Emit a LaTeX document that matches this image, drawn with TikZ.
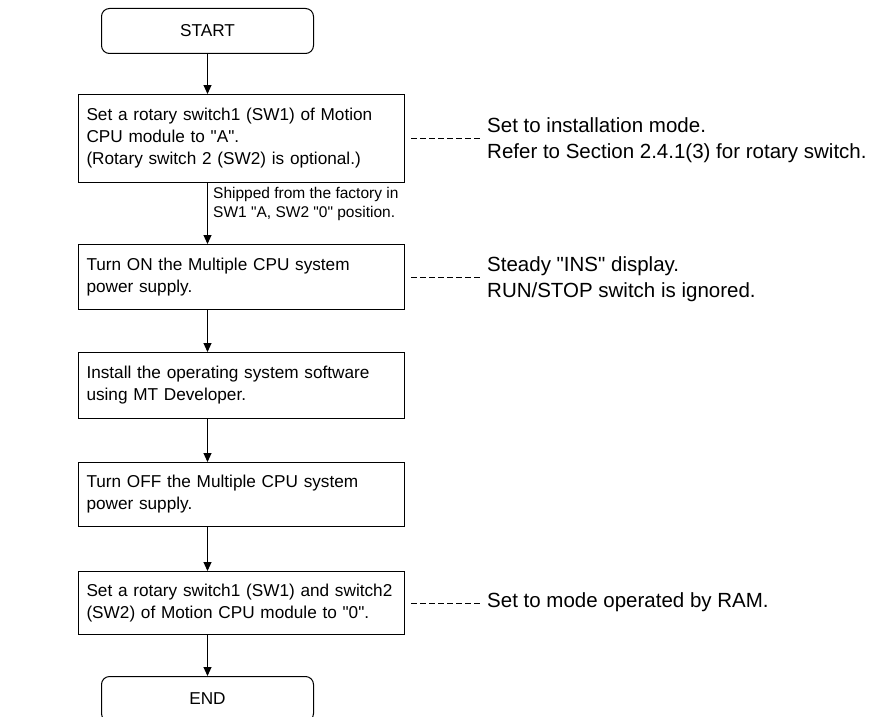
\documentclass[tikz,border=0pt]{standalone}
\usepackage{fontspec}
\setmainfont{Liberation Sans}[Ligatures=TeXOff]
\usetikzlibrary{arrows.meta}
\begin{document}
\begin{tikzpicture}[x=1pt,y=-1pt,
  every node/.style={font=\fontsize{17.2}{22}\selectfont},
  box/.style={draw, line width=1pt, minimum width=326pt, text width=310pt, inner xsep=8pt, inner ysep=0pt, align=left, anchor=north west},
  term/.style={draw, line width=1pt, rounded corners=8pt, minimum width=212pt, minimum height=45pt, anchor=north west},
  flow/.style={line width=1pt, -{Triangle[length=9pt,width=8pt]}},
  link/.style={line width=1pt, dash pattern=on 6pt off 3pt},
  note/.style={anchor=west, align=left, font=\fontsize{20.5}{25.5}\selectfont, inner sep=0pt},
  small/.style={anchor=west, align=left, font=\fontsize{15.5}{19.5}\selectfont, inner sep=0pt}]
\useasboundingbox (0,0) rectangle (894,717);

\node[term] (start) at (101,8) {START};
\node[box, minimum height=88pt] (b1) at (78,94) {Set a rotary switch1 (SW1) of Motion\\CPU module to "A".\\(Rotary switch 2 (SW2) is optional.)};
\node[box, minimum height=65pt] (b2) at (78,244) {Turn ON the Multiple CPU system\\power supply.};
\node[box, minimum height=66pt] (b3) at (78,352) {Install the operating system software\\using MT Developer.};
\node[box, minimum height=64pt] (b4) at (78,462) {Turn OFF the Multiple CPU system\\power supply.};
\node[box, minimum height=63pt] (b5) at (78,571) {Set a rotary switch1 (SW1) and switch2\\(SW2) of Motion CPU module to "0".};
\node[term] (stop) at (101,676) {END};

\node[small] (ship) at (213,204) {Shipped from the factory in\\SW1 "A, SW2 "0" position.};

\node[note] (n1) at (487,140) {Set to installation mode.\\Refer to Section 2.4.1(3) for rotary switch.};
\node[note] (n2) at (487,279) {Steady "INS" display.\\RUN/STOP switch is ignored.};
\node[note] (n3) at (487,602) {Set to mode operated by RAM.};

\draw[flow] (start) -- (start |- b1.north);
\draw[flow] (start |- b1.south) -- (start |- b2.north);
\draw[flow] (start |- b2.south) -- (start |- b3.north);
\draw[flow] (start |- b3.south) -- (start |- b4.north);
\draw[flow] (start |- b4.south) -- (start |- b5.north);
\draw[flow] (start |- b5.south) -- (stop);

\path (b1.east -| n1.west) coordinate (e1);
\path (b2.east -| n2.west) coordinate (e2);
\path (b5.east -| n3.west) coordinate (e3);
\draw[link] ([xshift=6pt]b1.east) -- ([xshift=-7pt]e1);
\draw[link] ([xshift=6pt]b2.east) -- ([xshift=-7pt]e2);
\draw[link] ([xshift=6pt]b5.east) -- ([xshift=-7pt]e3);
\end{tikzpicture}
\end{document}
